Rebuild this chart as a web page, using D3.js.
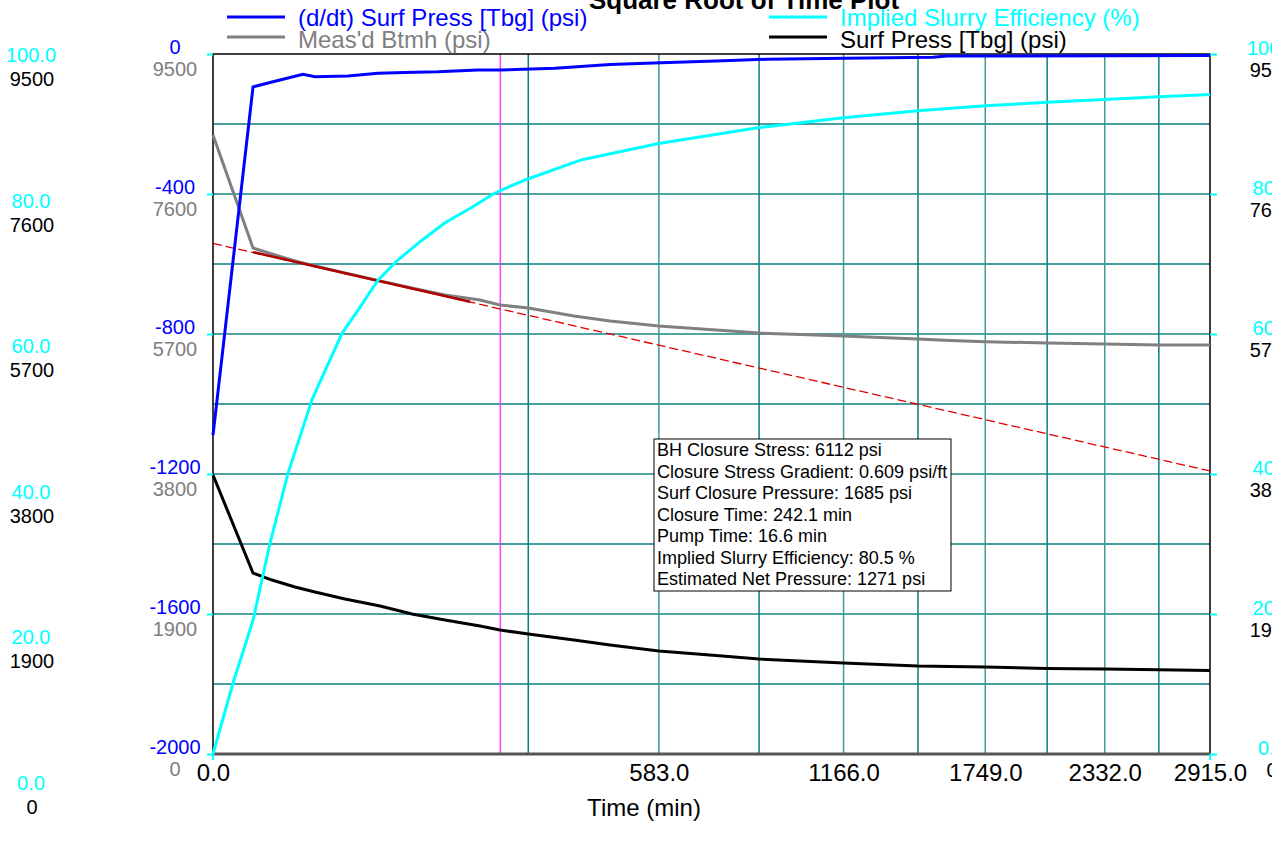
<!DOCTYPE html>
<html>
<head>
<meta charset="utf-8">
<script src="https://cdn.jsdelivr.net/npm/d3@7/dist/d3.min.js"></script>
<style>
  body { margin: 0; background: #fff; }
  svg { display: block; font-family: "Liberation Sans", Arial, sans-serif; }
</style>
</head>
<body>
<div id="viz"></div>
<script>
const width = 1272;
const height = 848;
const plot = {left: 213, right: 1210, top: 54, bottom: 754};

// time axis (min), drawn on a square root scale
const xTicks = [0, 583, 1166, 1749, 2332, 2915];
const xGrid = [291.5, 583, 874.5, 1166, 1457.5, 1749, 2040.5, 2332, 2623.5];
const closureTime = 242.1;

// y tick labels
const rateTicks = [0, -400, -800, -1200, -1600, -2000];
const psiTicks = [9500, 7600, 5700, 3800, 1900, 0];
const effTicks = [100, 80, 60, 40, 20, 0];
const rateGrid = [-1800, -1600, -1400, -1200, -1000, -800, -600, -400, -200];

// Meas'd Btmh and Surf Press share the same sample times
const pressTime = [0, 4.7, 10.2, 19.7, 30.5, 51.1, 81.8, 116.1, 157.8, 209.1, 241.5, 291.5, 382.2, 462.2, 583, 742, 874.5, 1010.5, 1166, 1304.7, 1457.5, 1592.9, 1749, 2040.5, 2332, 2623.5, 2915];
const btmhPsi = [8401, 6867, 6786, 6691, 6623, 6528, 6419, 6324, 6229, 6161, 6093, 6053, 5944, 5876, 5808, 5754, 5713, 5693, 5673, 5652, 5632, 5612, 5595, 5578, 5564, 5550, 5550];
const surfPsi = [3786, 2456, 2361, 2266, 2199, 2104, 2008, 1900, 1819, 1737, 1683, 1629, 1547, 1479, 1398, 1337, 1289, 1262, 1235, 1215, 1194, 1187, 1181, 1159, 1154, 1145, 1132];

// implied slurry efficiency (%)
const effTime = [0, 1.17, 4.7, 9.53, 16.5, 28.7, 48.8, 61.7, 79.8, 100.4, 128.1, 157.8, 196.7, 228.3, 242.1, 285.5, 399.3, 583, 874.5, 1166, 1457.5, 1749, 2040.5, 2332, 2623.5, 2915];
const effPct = [0, 10.1, 19.1, 30.1, 40.1, 50.6, 60.1, 63.4, 67.7, 70.6, 73.4, 75.9, 78.1, 79.9, 80.5, 82.0, 84.9, 87.2, 89.5, 90.9, 91.9, 92.6, 93.1, 93.5, 93.9, 94.2];

// (d/dt) surf press
const rateTime = [0, 4.7, 10.2, 23.75, 30.5, 53.4, 79.8, 108.1, 148.5, 205.9, 241.5, 343, 462.2, 588.6, 742, 900, 1171.3, 1520.3, 1580, 2915];
const ratePsi = [-1089, -94, -80, -58, -65, -63, -55, -53, -51, -46, -46, -41, -30, -25, -20, -15, -12, -9, -6, -4];

// closure fit line (psi) and the fitted segment
const fitTime = [0, 2915];
const fitPsi = [6930, 3841];
const fitSegTime = [4.7, 193.7];
const fitSegPsi = [6811, 6137];

const legendItems = [
  {label: "(d/dt) Surf Press [Tbg] (psi)", color: "#0000ff", col: 0, row: 0},
  {label: "Meas'd Btmh (psi)", color: "#808080", col: 0, row: 1},
  {label: "Implied Slurry Efficiency (%)", color: "#00ffff", col: 1, row: 0},
  {label: "Surf Press [Tbg] (psi)", color: "#000000", col: 1, row: 1}
];

const infoLines = [
  "BH Closure Stress: 6112 psi",
  "Closure Stress Gradient: 0.609 psi/ft",
  "Surf Closure Pressure: 1685 psi",
  "Closure Time: 242.1 min",
  "Pump Time: 16.6 min",
  "Implied Slurry Efficiency: 80.5 %",
  "Estimated Net Pressure: 1271 psi"
];

const zip = (t, v) => t.map((d, i) => ({t: d, v: v[i]}));

var svg = d3.select("#viz")
  .append("svg")
  .attr("width", width)
  .attr("height", height);

var x = d3.scaleSqrt().domain([0, 2915]).range([plot.left, plot.right]);
var yRate = d3.scaleLinear().domain([-2000, 0]).range([plot.bottom, plot.top]);
var yPsi = d3.scaleLinear().domain([0, 9500]).range([plot.bottom, plot.top]);
var yEff = d3.scaleLinear().domain([0, 100]).range([plot.bottom, plot.top]);
// the outer left labels sit on a slightly taller scale
var yOuter = d3.scaleLinear().domain([0, 100]).range([790, 62]);

// title
svg.append("text")
  .attr("x", 744).attr("y", 9)
  .attr("text-anchor", "middle")
  .style("font-size", "26px").style("font-weight", "bold")
  .text("Square Root of Time Plot");

// legend
var leg = svg.append("g").selectAll("g")
  .data(legendItems)
  .join("g")
  .attr("transform", d => "translate(" + (d.col ? 769 : 227) + "," + (d.row ? 37 : 17) + ")");
leg.append("line")
  .attr("x1", 0).attr("x2", 58)
  .attr("stroke", d => d.color).attr("stroke-width", 3);
leg.append("text")
  .attr("x", 71)
  .attr("y", d => d.row ? 11 : 9)
  .attr("fill", d => d.color)
  .style("font-size", "24px")
  .text(d => d.label);

// grid
var grid = svg.append("g");
grid.selectAll(".hg")
  .data(rateGrid)
  .join("line")
  .attr("x1", plot.left).attr("x2", plot.right)
  .attr("y1", d => yRate(d)).attr("y2", d => yRate(d))
  .attr("stroke", d => d % 400 === 0 ? "#4fa3a3" : "#0b7d7d")
  .attr("stroke-width", d => d % 400 === 0 ? 2 : 1.5);
grid.selectAll(".vg")
  .data(xGrid)
  .join("line")
  .attr("x1", d => x(d)).attr("x2", d => x(d))
  .attr("y1", plot.top).attr("y2", plot.bottom)
  .attr("stroke", (d, i) => i % 2 ? "#3f9a9a" : "#0b7d7d")
  .attr("stroke-width", 1.5);

// closure time marker
svg.append("line")
  .attr("x1", x(closureTime)).attr("x2", x(closureTime))
  .attr("y1", plot.top).attr("y2", plot.bottom)
  .attr("stroke", "#ff40ff").attr("stroke-width", 1.5);

// frame
svg.append("rect")
  .attr("x", plot.left).attr("y", plot.top)
  .attr("width", plot.right - plot.left).attr("height", plot.bottom - plot.top)
  .attr("fill", "none").attr("stroke", "#000").attr("stroke-width", 1.5);
svg.append("line")
  .attr("x1", plot.left).attr("x2", plot.right)
  .attr("y1", plot.bottom).attr("y2", plot.bottom)
  .attr("stroke", "#555").attr("stroke-width", 3);

var psiLine = d3.line().x(d => x(d.t)).y(d => yPsi(d.v));

// fit line dashed
svg.append("path")
  .datum(zip(fitTime, fitPsi))
  .attr("d", psiLine)
  .attr("fill", "none").attr("stroke", "#e00000")
  .attr("stroke-width", 1.3).attr("stroke-dasharray", "9,4");

svg.append("path")
  .datum(zip(pressTime, surfPsi))
  .attr("d", psiLine)
  .attr("fill", "none").attr("stroke", "#000").attr("stroke-width", 3);

svg.append("path")
  .datum(zip(pressTime, btmhPsi))
  .attr("d", psiLine)
  .attr("fill", "none").attr("stroke", "#808080").attr("stroke-width", 3);

svg.append("path")
  .datum(zip(fitSegTime, fitSegPsi))
  .attr("d", psiLine)
  .attr("fill", "none").attr("stroke", "#b00000").attr("stroke-width", 2.5);

svg.append("path")
  .datum(zip(effTime, effPct))
  .attr("d", d3.line().x(d => x(d.t)).y(d => yEff(d.v)))
  .attr("fill", "none").attr("stroke", "#00ffff").attr("stroke-width", 3);

svg.append("path")
  .datum(zip(rateTime, ratePsi))
  .attr("d", d3.line().x(d => x(d.t)).y(d => yRate(d.v)))
  .attr("fill", "none").attr("stroke", "#0000ff").attr("stroke-width", 3);

// left inner axis: blue rate labels with cyan ticks
var leftAxis = svg.append("g")
  .attr("transform", "translate(" + plot.left + ",0)")
  .call(d3.axisLeft(yRate).tickValues(rateTicks).tickSize(6).tickFormat(d => String(d)));
leftAxis.select(".domain").remove();
leftAxis.selectAll(".tick line").attr("stroke", "#00ffff").attr("stroke-width", 2);
leftAxis.selectAll(".tick text")
  .attr("x", -38).attr("y", -8).attr("dy", "0.35em")
  .attr("text-anchor", "middle")
  .attr("fill", "#0000ff")
  .style("font-size", "20px").style("font-family", "inherit");

svg.append("g").selectAll("text")
  .data(psiTicks)
  .join("text")
  .attr("x", 175).attr("y", d => yPsi(d) + 15).attr("dy", "0.35em")
  .attr("text-anchor", "middle").attr("fill", "#808080")
  .style("font-size", "20px")
  .text(d => d);

// outer left labels
svg.append("g").selectAll("text")
  .data(effTicks)
  .join("text")
  .attr("x", 31).attr("y", d => yOuter(d) - 7).attr("dy", "0.35em")
  .attr("text-anchor", "middle").attr("fill", "#00ffff")
  .style("font-size", "20px")
  .text(d => d3.format(".1f")(d));
svg.append("g").selectAll("text")
  .data(psiTicks)
  .join("text")
  .attr("x", 32).attr("y", d => yOuter(d / 95) + 17).attr("dy", "0.35em")
  .attr("text-anchor", "middle").attr("fill", "#000")
  .style("font-size", "20px")
  .text(d => d);

// right axis: cyan ticks and labels cut by the page edge
var rightAxis = svg.append("g")
  .attr("transform", "translate(" + plot.right + ",0)")
  .call(d3.axisRight(yEff).tickValues(effTicks).tickSize(7).tickFormat(d3.format(".1f")));
rightAxis.select(".domain").remove();
rightAxis.selectAll(".tick line").attr("stroke", "#00ffff").attr("stroke-width", 2);
rightAxis.selectAll(".tick text")
  .attr("x", 62).attr("y", -7).attr("dy", "0.35em")
  .attr("text-anchor", "middle").attr("fill", "#00ffff")
  .style("font-size", "20px").style("font-family", "inherit");
svg.append("g").selectAll("text")
  .data(psiTicks)
  .join("text")
  .attr("x", 1272).attr("y", d => yPsi(d) + 16).attr("dy", "0.35em")
  .attr("text-anchor", "middle").attr("fill", "#000")
  .style("font-size", "20px")
  .text(d => d);

// bottom axis
var bottomAxis = svg.append("g")
  .attr("transform", "translate(0," + plot.bottom + ")")
  .call(d3.axisBottom(x).tickValues(xTicks).tickSize(0).tickPadding(10).tickFormat(d3.format(".1f")));
bottomAxis.select(".domain").remove();
bottomAxis.selectAll(".tick text")
  .attr("fill", "#000")
  .style("font-size", "24px").style("font-family", "inherit");
svg.append("g").selectAll("line")
  .data([0, 2915])
  .join("line")
  .attr("x1", d => x(d)).attr("x2", d => x(d))
  .attr("y1", plot.bottom).attr("y2", plot.bottom + 6)
  .attr("stroke", "#00ffff").attr("stroke-width", 2);

svg.append("text")
  .attr("x", 644).attr("y", 816)
  .attr("text-anchor", "middle")
  .style("font-size", "24px")
  .text("Time (min)");

// info box
var info = svg.append("g").attr("transform", "translate(654,439)");
info.append("rect")
  .attr("width", 297).attr("height", 152)
  .attr("fill", "#fff").attr("stroke", "#000").attr("stroke-width", 1);
info.selectAll("text")
  .data(infoLines)
  .join("text")
  .attr("x", 3).attr("y", (d, i) => 11 + i * 21.5).attr("dy", "0.35em")
  .style("font-size", "18px")
  .text(d => d);
</script>
</body>
</html>
